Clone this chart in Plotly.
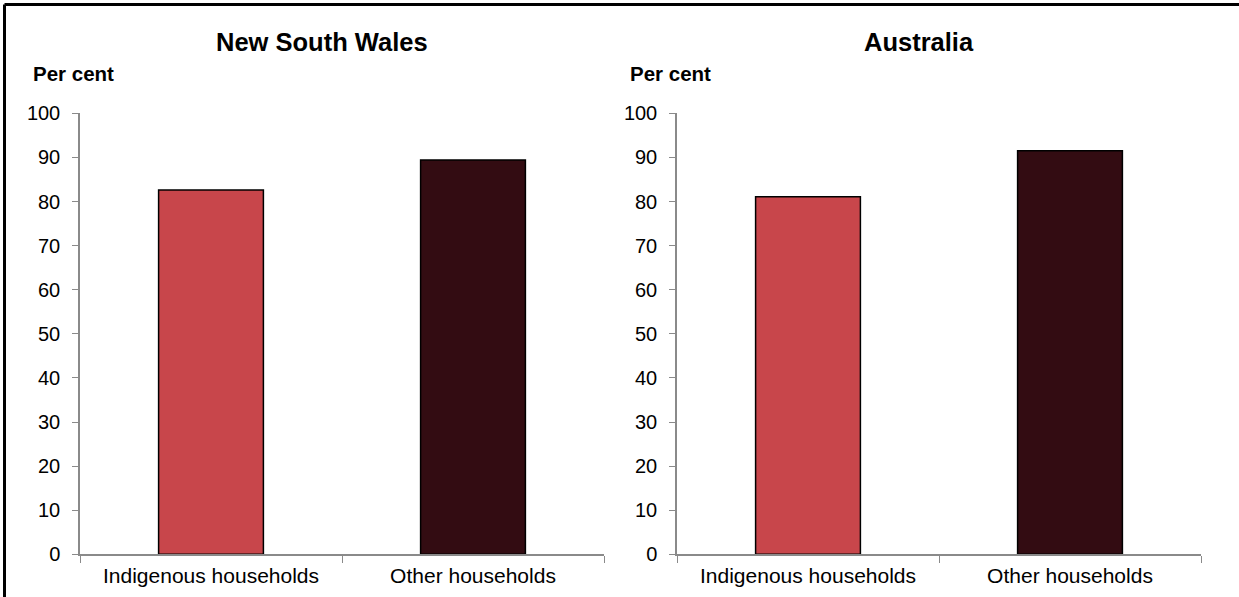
import plotly.graph_objects as go

categories = ["Indigenous households", "Other households"]
nsw_values = [82.6, 89.4]
aus_values = [81.1, 91.5]
bar_colors = ["#C8464B", "#330C12"]
panel_titles = ["New South Wales", "Australia"]
y_ticks = [0, 10, 20, 30, 40, 50, 60, 70, 80, 90, 100]

W, H = 1239, 597
FONT = "Liberation Sans, Arial, sans-serif"
AX = "#8a8a8a"

def px(x):
    return x / W

def py(y):
    return (H - y) / H

fig = go.Figure()
for i, vals in enumerate([nsw_values, aus_values]):
    fig.add_trace(go.Bar(
        x=categories, y=vals,
        marker=dict(color=bar_colors, line=dict(color="#000000", width=1.5)),
        xaxis="x" if i == 0 else "x2",
        yaxis="y" if i == 0 else "y2",
        showlegend=False, hoverinfo="skip",
    ))

xdom = [[px(80), px(604)], [px(677), px(1201)]]
ydom = [py(554.3), py(113.3)]

common_x = dict(
    type="category", showline=True, linecolor=AX, linewidth=1.5,
    ticks="outside", tickson="boundaries", ticklen=7, tickcolor=AX, tickwidth=1,
    tickfont=dict(family=FONT, size=21, color="#000000"),
    ticklabelstandoff=2,
    showgrid=False, zeroline=False, fixedrange=True, automargin=False,
)
common_y = dict(
    range=[0, 100], tickvals=y_ticks, showline=True, linecolor=AX, linewidth=1.5,
    ticks="outside", ticklen=6, tickcolor=AX, tickwidth=1,
    tickfont=dict(family=FONT, size=20, color="#000000"),
    ticklabelstandoff=8,
    showgrid=False, zeroline=False, fixedrange=True, automargin=False,
)

fig.update_layout(
    template="none",
    width=W, height=H, autosize=False,
    margin=dict(l=0, r=0, t=0, b=0, pad=0, autoexpand=False),
    paper_bgcolor="#ffffff", plot_bgcolor="#ffffff",
    bargap=0.6,
    xaxis=dict(domain=xdom[0], anchor="y", **common_x),
    yaxis=dict(domain=ydom, anchor="x", **common_y),
    xaxis2=dict(domain=xdom[1], anchor="y2", **common_x),
    yaxis2=dict(domain=ydom, anchor="x2", **common_y),
)

ann = []
title_x = [321.5, 919]
percent_x = [31, 628]
for i in range(2):
    ann.append(dict(text="<b>" + panel_titles[i] + "</b>", x=px(title_x[i]), y=py(42),
                    xref="paper", yref="paper", xanchor="center", yanchor="middle",
                    showarrow=False, font=dict(family=FONT, size=25.5, color="#000000")))
    ann.append(dict(text="<b>Per cent</b>", x=px(percent_x[i]), y=py(74),
                    xref="paper", yref="paper", xanchor="left", yanchor="middle",
                    showarrow=False, font=dict(family=FONT, size=20.5, color="#000000")))
fig.update_layout(annotations=ann)

# outer frame (top and left edges visible)
fig.add_shape(type="line", xref="paper", yref="paper",
              x0=px(4.5), y0=py(597), x1=px(4.5), y1=py(4.5),
              line=dict(color="#000000", width=3))
fig.add_shape(type="line", xref="paper", yref="paper",
              x0=px(4.5), y0=py(4.5), x1=px(1239), y1=py(4.5),
              line=dict(color="#000000", width=3))

fig.write_html(
    "out.html",
    config={"displayModeBar": False, "responsive": False},
    post_script="document.body.style.margin='0';document.body.style.padding='0';"
                "document.body.style.overflow='hidden';"
                "document.documentElement.style.overflow='hidden';",
)
